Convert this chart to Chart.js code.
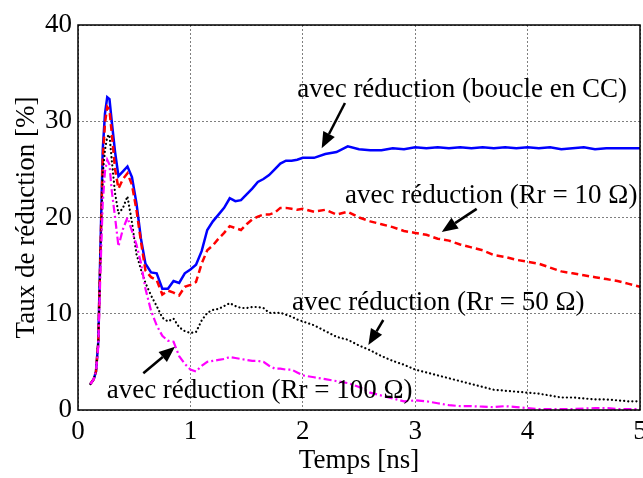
<!DOCTYPE html>
<html><head><meta charset="utf-8">
<script src="https://cdn.jsdelivr.net/npm/chart.js@4/dist/chart.umd.min.js"></script>
<style>html,body{margin:0;padding:0;background:#fff;}#wrap{width:643px;height:478px;}</style>
</head><body><div id="wrap"><canvas id="c" width="643" height="478"></canvas></div>
<script>
// ---- data (time in ns, reduction in %) ----
const timeNs = [0.11,0.14,0.16,0.18,0.20,0.22,0.24,0.26,0.28,0.30,0.33,0.36,0.40,0.44,0.48,0.52,0.56,0.60,0.65,0.70,0.75,0.80,0.85,0.90,0.95,1.00,1.05,1.10,1.15,1.20,1.25,1.30,1.35,1.40,1.45,1.50,1.55,1.60,1.65,1.70,1.75,1.80,1.85,1.90,1.95,2.00,2.1,2.2,2.3,2.4,2.5,2.6,2.7,2.8,2.9,3.0,3.1,3.2,3.3,3.4,3.5,3.6,3.7,3.8,3.9,4.0,4.1,4.2,4.3,4.4,4.5,4.6,4.7,4.8,4.9,5.0];
const boucleCC = [2.7,3.2,4.0,7.0,17.0,27.0,30.8,32.5,32.3,30.0,26.8,24.3,24.8,25.3,24.2,21.5,17.8,15.2,14.3,14.2,12.6,12.6,13.4,13.2,14.2,14.6,15.1,16.5,18.7,19.6,20.3,21.0,22.0,21.7,21.8,22.4,23.0,23.7,24.0,24.4,25.0,25.6,25.9,25.9,26.0,26.2,26.2,26.6,26.8,27.4,27.1,27.0,27.0,27.2,27.1,27.3,27.2,27.3,27.2,27.3,27.2,27.3,27.2,27.3,27.2,27.3,27.2,27.3,27.1,27.2,27.3,27.1,27.2,27.2,27.2,27.2];
const rr10 = [2.7,3.2,4.0,7.0,16.5,26.0,29.8,31.5,31.2,28.8,25.0,23.0,24.0,24.6,23.4,20.8,17.5,14.5,13.8,13.5,12.0,12.4,12.2,11.9,12.8,13.0,13.3,15.2,16.6,17.1,17.8,18.4,19.1,18.9,18.7,19.3,19.8,20.1,20.3,20.3,20.5,21.0,21.0,20.9,20.8,20.9,20.6,20.8,20.3,20.6,20.0,19.6,19.3,19.0,18.6,18.4,18.2,17.8,17.6,17.2,16.9,16.6,16.1,15.9,15.6,15.4,15.2,14.8,14.4,14.2,14.0,13.8,13.6,13.4,13.1,12.8];
const rr50 = [2.7,3.2,4.0,7.0,16.0,24.5,27.0,28.4,28.6,26.0,22.5,20.4,21.0,22.2,19.5,16.2,14.6,13.2,11.9,10.8,9.6,9.2,9.5,8.6,8.2,8.0,8.1,9.3,10.1,10.4,10.5,10.8,11.1,10.8,10.6,10.6,10.7,10.7,10.6,10.1,10.1,10.1,9.9,9.7,9.4,9.2,8.8,8.2,7.6,7.3,6.7,6.2,5.6,5.1,4.7,4.2,3.9,3.6,3.3,3.0,2.7,2.4,2.1,2.0,1.9,1.8,1.7,1.5,1.3,1.3,1.2,1.1,1.1,1.0,0.9,0.9];
const rr100 = [2.7,3.2,4.0,6.5,14.5,21.5,24.8,26.0,25.5,22.8,20.0,17.0,18.8,20.0,18.6,17.2,15.3,12.6,10.3,8.8,7.7,7.2,7.1,5.6,4.8,4.2,4.0,4.6,5.0,5.1,5.2,5.3,5.5,5.4,5.3,5.2,5.1,5.1,5.0,4.6,4.3,4.3,4.2,4.2,3.9,3.6,3.4,3.2,3.0,2.8,2.4,1.8,1.5,1.2,0.9,1.0,0.9,0.7,0.5,0.4,0.4,0.35,0.3,0.4,0.3,0.2,0.1,0.1,0.1,0.1,0.15,0.2,0.2,0.1,0.1,0.1];
const xTicks = [0,1,2,3,4,5];
const yTicks = [0,10,20,30,40];
const xTitle = "Temps [ns]";
const yTitle = "Taux de réduction [%]";
// annotation text with anchor (data coords: time, %)
const noteTexts = ["avec réduction (boucle en CC)","avec réduction (Rr = 10 Ω)","avec réduction (Rr = 50 Ω)","avec réduction (Rr = 100 Ω)"];
const noteX = [1.95, 2.375, 1.904, 0.255];
const noteY = [32.5, 21.5, 10.4, 1.25];
// arrows: tail -> tip (data coords)
const arrowTailX = [2.375, 3.547, 2.716, 0.581];
const arrowTailY = [31.9, 20.9, 9.35, 3.81];
const arrowTipX  = [2.168, 3.236, 2.583, 0.863];
const arrowTipY  = [27.2, 18.5, 6.75, 6.57];

const pts = arr => timeNs.map((t,i)=>({x:t,y:arr[i]}));
const SERIF = "'Liberation Serif','Times New Roman',serif";

const notesPlugin = {
  id:'notes',
  afterDatasetsDraw(chart){
    const {ctx, chartArea:a, scales:{x,y}} = chart;
    ctx.save();
    // axes box
    ctx.strokeStyle='#000'; ctx.lineWidth=1.5; ctx.setLineDash([]);
    ctx.strokeRect(a.left, a.top, a.right-a.left, a.bottom-a.top);
    // texts
    ctx.fillStyle='#000'; ctx.font="27px "+SERIF;
    ctx.textAlign='left'; ctx.textBaseline='alphabetic';
    noteTexts.forEach((s,i)=>ctx.fillText(s, x.getPixelForValue(noteX[i]), y.getPixelForValue(noteY[i])));
    // arrows
    for(let i=0;i<arrowTailX.length;i++){
      const x0=x.getPixelForValue(arrowTailX[i]), y0=y.getPixelForValue(arrowTailY[i]);
      const x1=x.getPixelForValue(arrowTipX[i]), y1=y.getPixelForValue(arrowTipY[i]);
      const ang=Math.atan2(y1-y0,x1-x0), L=16, W=6.5;
      const bx=x1-L*Math.cos(ang), by=y1-L*Math.sin(ang);
      ctx.lineWidth=2.5; ctx.beginPath(); ctx.moveTo(x0,y0); ctx.lineTo(bx,by); ctx.stroke();
      ctx.beginPath(); ctx.moveTo(x1,y1);
      ctx.lineTo(bx+W*Math.sin(ang), by-W*Math.cos(ang));
      ctx.lineTo(bx-W*Math.sin(ang), by+W*Math.cos(ang));
      ctx.closePath(); ctx.fill();
    }
    ctx.restore();
  }
};

const gridOpts = {color:'rgba(0,0,0,0.5)', lineWidth:1, drawTicks:false};
new Chart(document.getElementById('c'), {
  type:'line',
  data:{datasets:[
    {data:pts(boucleCC), borderColor:'#0000ff', borderWidth:2.5, order:4},
    {data:pts(rr10), borderColor:'#ff0000', borderWidth:2.5, borderDash:[7,4], order:3},
    {data:pts(rr50), borderColor:'#000000', borderWidth:2.2, borderDash:[0.1,4], borderCapStyle:'round', order:2},
    {data:pts(rr100), borderColor:'#ff00ff', borderWidth:2.2, borderDash:[8,3,2,3], order:1}
  ]},
  options:{
    responsive:false, devicePixelRatio:1, animation:false,
    elements:{point:{radius:0}, line:{tension:0, fill:false}},
    layout:{padding:{top:25,right:3,left:0,bottom:0}},
    plugins:{legend:{display:false}, tooltip:{enabled:false}},
    scales:{
      x:{type:'linear', min:0, max:5,
        afterBuildTicks:s=>{s.ticks=xTicks.map(v=>({value:v}));},
        afterFit:s=>{s.height=68; s.paddingLeft=0; s.paddingRight=0;},
        ticks:{color:'#000', font:{family:SERIF,size:27}, padding:6, maxRotation:0},
        grid:gridOpts, border:{display:false, dash:[2,2]},
        title:{display:true, text:xTitle, color:'#000', font:{family:SERIF,size:27}, padding:{top:0,bottom:1}}
      },
      y:{type:'linear', min:0, max:40,
        afterBuildTicks:s=>{s.ticks=yTicks.map(v=>({value:v}));},
        afterFit:s=>{s.width=78; s.paddingTop=0; s.paddingBottom=0;},
        ticks:{color:'#000', font:{family:SERIF,size:27}, padding:6},
        grid:gridOpts, border:{display:false, dash:[2,2]},
        title:{display:true, text:yTitle, color:'#000', font:{family:SERIF,size:27}, padding:{top:11,bottom:0}}
      }
    }
  },
  plugins:[notesPlugin]
});
</script></body></html>
